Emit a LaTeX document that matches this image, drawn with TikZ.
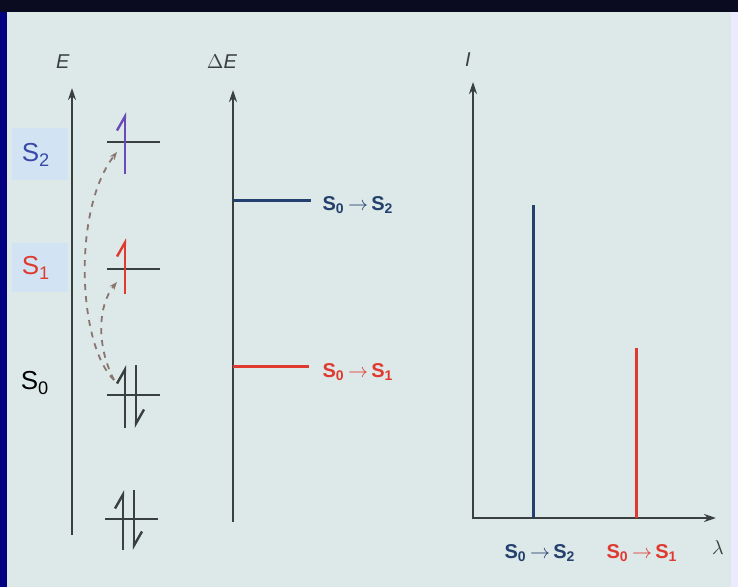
\documentclass[tikz,border=0pt]{standalone}
\usepackage{fontspec}
\setmainfont{Liberation Sans}
\usetikzlibrary{arrows.meta}

\definecolor{panel}{HTML}{DDE9E8}
\definecolor{frame}{HTML}{0A0A20}
\definecolor{axisgray}{HTML}{3A4040}
\definecolor{lvlblue}{HTML}{3848A8}
\definecolor{lvlpurple}{HTML}{6A4AB8}
\definecolor{lvlred}{HTML}{E03A30}
\definecolor{trblue}{HTML}{24406E}
\definecolor{hilite}{HTML}{D2E4F4}
\definecolor{dashbrown}{HTML}{8A7470}

\tikzset{
  axis/.style={axisgray, line width=1pt, -{Stealth[length=6pt,width=4pt]}},
  level/.style={axisgray, line width=1.3pt},
  spinup/.style={line width=1.2pt, -{Straight Barb[left,length=7pt,width=8pt]}},
  jump/.style={dashbrown, dashed, line width=0.9pt, -{Stealth[length=4pt,width=3pt]}},
  statelbl/.style={font=\fontsize{13}{13}\selectfont},
  translbl/.style={font=\fontsize{10}{10}\selectfont\bfseries},
}

\begin{document}
\begin{tikzpicture}[x=0.5pt,y=-0.5pt]
  % frame and panel
  \fill[frame] (0,0) rectangle (738,587);
  \fill[blue!50!black] (0,12) rectangle (7,587);
  \fill[panel] (7,12) rectangle (731,587);
  \fill[white!92!blue] (731,12) rectangle (738,587);
  \useasboundingbox (0,0) rectangle (738,587);

  % energy levels
  \fill[hilite] (12,128) rectangle (68,180);
  \fill[hilite] (12,243) rectangle (68,292);
  \node[statelbl, lvlblue] (lblS2) at (36,155) {S\textsubscript{2}};
  \node[statelbl, lvlred] (lblS1) at (36,268) {S\textsubscript{1}};
  \node[statelbl, black] (lblS0) at (35,383) {S\textsubscript{0}};

  \draw[axis] (72,535) -- (72,88);
  \node[axisgray] (lblE) at (63,62) {\textit{E}};

  \draw[level] (107,142) -- (160,142);
  \draw[level] (107,269) -- (160,269);
  \draw[level] (107,395) -- (160,395);
  \draw[level] (105,519) -- (158,519);

  \draw[spinup, lvlpurple] (125,174) -- (125,112);
  \draw[spinup, lvlred] (125,294) -- (125,238);
  \draw[spinup, axisgray] (125,428) -- (125,365);
  \draw[spinup, axisgray] (136,365) -- (136,428);
  \draw[spinup, axisgray] (123,550) -- (123,490);
  \draw[spinup, axisgray] (134,490) -- (134,550);

  \coordinate (from) at (114,380);
  \coordinate (toS2) at (117,152);
  \coordinate (toS1) at (117,282);
  \draw[jump] (from) .. controls (78,345) and (72,210) .. (toS2);
  \draw[jump] (from) .. controls (96,345) and (98,305) .. (toS1);

  % transition energies
  \draw[axis] (233,522) -- (233,90);
  \node[axisgray] (lblDE) at (222,62) {$\Delta$\textit{E}};
  \draw[trblue, line width=1.5pt] (233,201) -- (311,201);
  \node[translbl, trblue] (dE2) at (358,205) {S\textsubscript{0}\,$\rightarrow$\,S\textsubscript{2}};
  \draw[lvlred, line width=1.5pt] (233,366) -- (309,366);
  \node[translbl, lvlred] (dE1) at (358,372) {S\textsubscript{0}\,$\rightarrow$\,S\textsubscript{1}};

  % spectrum
  \draw[axis] (473,519) -- (473,82);
  \draw[axis] (473,518) -- (716,518);
  \node[axisgray] (lblI) at (468,60) {\textit{I}};
  \node[axisgray] (lblL) at (718,548) {$\lambda$};
  \draw[trblue, line width=1.5pt] (533,518) -- (533,205);
  \draw[lvlred, line width=1.5pt] (636,518) -- (636,348);
  \node[translbl, trblue] (sp2) at (540,553) {S\textsubscript{0}\,$\rightarrow$\,S\textsubscript{2}};
  \node[translbl, lvlred] (sp1) at (642,553) {S\textsubscript{0}\,$\rightarrow$\,S\textsubscript{1}};
\end{tikzpicture}
\end{document}
